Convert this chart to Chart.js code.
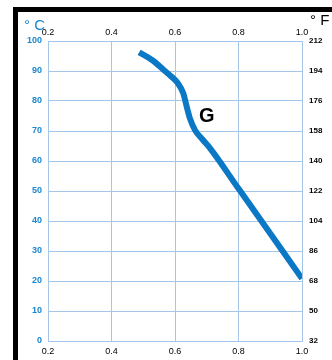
<!DOCTYPE html>
<html><head><meta charset="utf-8">
<script src="https://cdn.jsdelivr.net/npm/chart.js@4"></script>
<style>
html,body{margin:0;padding:0;background:#fff;}
#wrap{position:relative;width:332px;height:360px;}
#frame{position:absolute;left:13px;top:7px;right:0;bottom:0;border-left:5px solid #000;border-top:5px solid #000;}
canvas{position:absolute;left:0;top:0;}
</style></head><body>
<div id="wrap"><div id="frame"></div><canvas id="c" width="332" height="360"></canvas></div>
<script>
const ratioX = [0.487, 0.53, 0.563, 0.59, 0.609, 0.626, 0.637, 0.647, 0.663, 0.688, 0.71, 0.80, 0.90, 1.0];
const tempC  = [96.2, 93.5, 90.5, 88.0, 85.9, 82.6, 78.1, 74.2, 70.3, 67.0, 64.3, 50.8, 35.8, 20.8];
const xTicks = [0.2, 0.4, 0.6, 0.8, 1.0];
const cTicks = [0, 10, 20, 30, 40, 50, 60, 70, 80, 90, 100];
const fTicks = [32, 50, 68, 86, 104, 122, 140, 158, 176, 194, 212];
const curveLabel = 'G';
const unitC = '° C', unitF = '° F';

const blue = '#1a87d0';
const gridColor = '#a3c6ea';
const font = 'Liberation Sans, Arial, sans-serif';

const textPlugin = {
  id: 'texts',
  afterDraw(chart) {
    const ctx = chart.ctx;
    const xs = chart.scales.x, ys = chart.scales.y;
    ctx.save();
    ctx.textBaseline = 'alphabetic';
    ctx.font = '15px ' + font;
    ctx.fillStyle = blue;
    ctx.textAlign = 'left';
    ctx.fillText(unitC, 24, 30);
    ctx.fillStyle = '#000';
    ctx.fillText(unitF, 310, 25);
    ctx.font = 'bold 20px ' + font;
    ctx.textAlign = 'center';
    ctx.textBaseline = 'middle';
    ctx.fillText(curveLabel, xs.getPixelForValue(0.7), ys.getPixelForValue(75));
    ctx.restore();
  }
};

new Chart(document.getElementById('c'), {
  type: 'scatter',
  data: {
    datasets: [{
      data: ratioX.map((x, i) => ({x: x, y: tempC[i]})),
      showLine: true,
      borderColor: '#0b78c5',
      borderWidth: 6,
      pointRadius: 0,
      cubicInterpolationMode: 'monotone',
      borderCapStyle: 'butt',
      borderJoinStyle: 'round'
    }]
  },
  options: {
    responsive: false,
    animation: false,
    layout: {padding: 0},
    plugins: {legend: {display: false}, tooltip: {enabled: false}},
    scales: {
      x: {
        type: 'linear', position: 'bottom', min: 0.2, max: 1.0,
        afterBuildTicks: s => { s.ticks = xTicks.map(v => ({value: v})); },
        afterFit: s => { s.height = 19; },
        grid: {color: gridColor, lineWidth: 1, drawTicks: false},
        border: {color: gridColor},
        ticks: {padding: 5, color: '#000', font: {family: font, size: 9}, maxRotation: 0,
          callback: v => v.toFixed(1)}
      },
      x2: {
        type: 'linear', position: 'top', min: 0.2, max: 1.0,
        afterBuildTicks: s => { s.ticks = xTicks.map(v => ({value: v})); },
        afterFit: s => { s.height = 41; },
        grid: {display: false, drawTicks: false},
        border: {color: gridColor},
        ticks: {padding: 3, color: '#000', font: {family: font, size: 9}, maxRotation: 0,
          callback: v => v.toFixed(1)}
      },
      y: {
        type: 'linear', position: 'left', min: 0, max: 100,
        afterBuildTicks: s => { s.ticks = cTicks.map(v => ({value: v})); },
        afterFit: s => { s.width = 48; },
        grid: {color: gridColor, lineWidth: 1, drawTicks: false},
        border: {color: gridColor},
        ticks: {padding: 6, color: blue, font: {family: font, size: 9, weight: 'bold'}}
      },
      y2: {
        type: 'linear', position: 'right', min: 32, max: 212,
        afterBuildTicks: s => { s.ticks = fTicks.map(v => ({value: v})); },
        afterFit: s => { s.width = 30; },
        grid: {display: false, drawTicks: false},
        border: {color: gridColor},
        ticks: {padding: 7, color: '#000', font: {family: font, size: 8, weight: 'bold'}}
      }
    }
  },
  plugins: [textPlugin]
});
</script>
</body></html>
